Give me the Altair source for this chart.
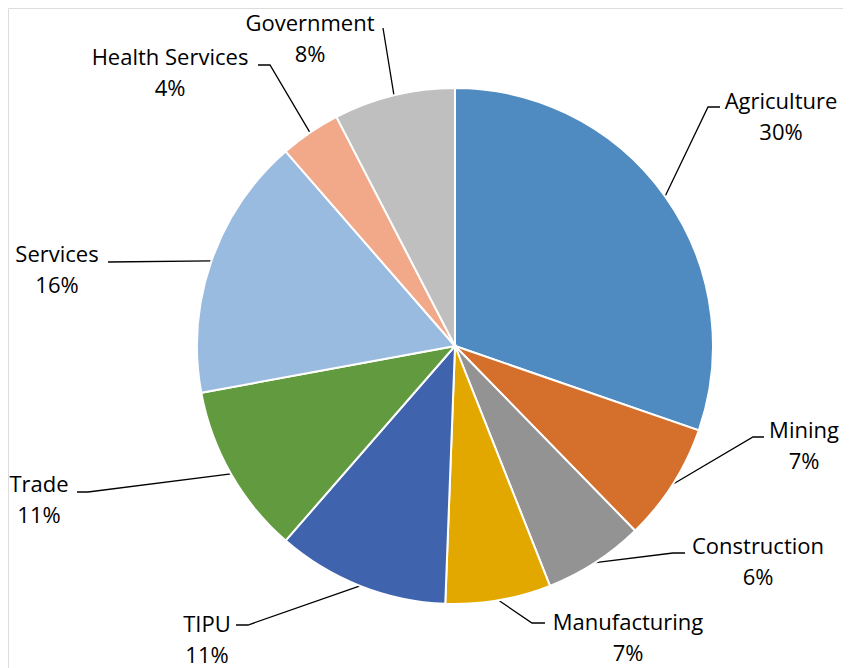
import math
import altair as alt
import pandas as pd

# ---- data ----
categories = ["Agriculture", "Mining", "Construction", "Manufacturing", "TIPU",
              "Trade", "Services", "Health Services", "Government"]
shares = [30.3, 7.4, 6.3, 6.6, 10.8, 10.7, 16.5, 3.8, 7.6]
pct_labels = ["30%", "7%", "6%", "7%", "11%", "11%", "16%", "4%", "8%"]

# ---- style ----
colors = ["#4F8BC0", "#D5702C", "#939393", "#E3A800", "#3F64AD",
          "#629A3F", "#9ABBE0", "#F2A98A", "#BFBFBF"]

# ---- layout (offsets from the pie centre, px) ----
W, H = 835, 660
CX, CY = 447, 338
R = 258
label_x = [326, 349, 303, 173, -248, -416, -398, -285, -145]
label_y = [-244, 85, 201, 277, 279, 139, -91, -288, -322]
leader_end_x = [265, 309, 230, 90, -219, -378, -347, -197, -72]
leader_end_y = [-239, 91, 207, 277, 279, 146, -84, -281, -318]
elbow = [12, 11, 12, 13, -12, -11, 0, -12, 0]
LINE_GAP = 31
FONT = "Open Sans"
FS = 22

pie_df = pd.DataFrame({"cat": categories, "share": shares, "idx": range(len(categories))})

total = sum(shares)
cum = 0.0
lab_rows, line_rows = [], []
for i, c in enumerate(categories):
    mid = (cum + shares[i] / 2) / total * 2 * math.pi
    cum += shares[i]
    sx, sy = R * math.sin(mid), -R * math.cos(mid)
    ex, ey = leader_end_x[i], leader_end_y[i]
    pts = [(sx, sy), (ex - elbow[i], ey), (ex, ey)]
    for k, (px, py) in enumerate(pts):
        line_rows.append({"cat": c, "k": k, "x": px, "y": py})
    lab_rows.append({"cat": c, "text": c, "x": label_x[i], "y": label_y[i]})
    lab_rows.append({"cat": c, "text": pct_labels[i], "x": label_x[i], "y": label_y[i] + LINE_GAP})

line_df = pd.DataFrame(line_rows)
lab_df = pd.DataFrame(lab_rows)

xs = alt.Scale(domain=[-CX, W - CX], nice=False, zero=False)
ys = alt.Scale(domain=[-CY, H - CY], reverse=True, nice=False, zero=False)

pie = alt.Chart(pie_df).mark_arc(outerRadius=R, stroke="white", strokeWidth=2).encode(
    theta=alt.Theta("share:Q", stack=True),
    order=alt.Order("idx:Q"),
    color=alt.Color("cat:N", scale=alt.Scale(domain=categories, range=colors), legend=None),
    x=alt.value(CX), y=alt.value(CY),
)

leaders = alt.Chart(line_df).mark_line(color="black", strokeWidth=1.3).encode(
    x=alt.X("x:Q", scale=xs, axis=None),
    y=alt.Y("y:Q", scale=ys, axis=None),
    detail="cat:N",
    order="k:Q",
)

labels = alt.Chart(lab_df).mark_text(font=FONT, fontSize=FS, color="#000000",
                                     align="center", baseline="middle").encode(
    x=alt.X("x:Q", scale=xs, axis=None),
    y=alt.Y("y:Q", scale=ys, axis=None),
    text="text:N",
)

chart = alt.layer(leaders, pie, labels).properties(
    width=W, height=H, padding=0, autosize=alt.AutoSizeParams(type="none")
).configure_view(stroke=None).configure(background="white")

chart.save("out.html", embed_options={"renderer": "svg", "actions": False})
